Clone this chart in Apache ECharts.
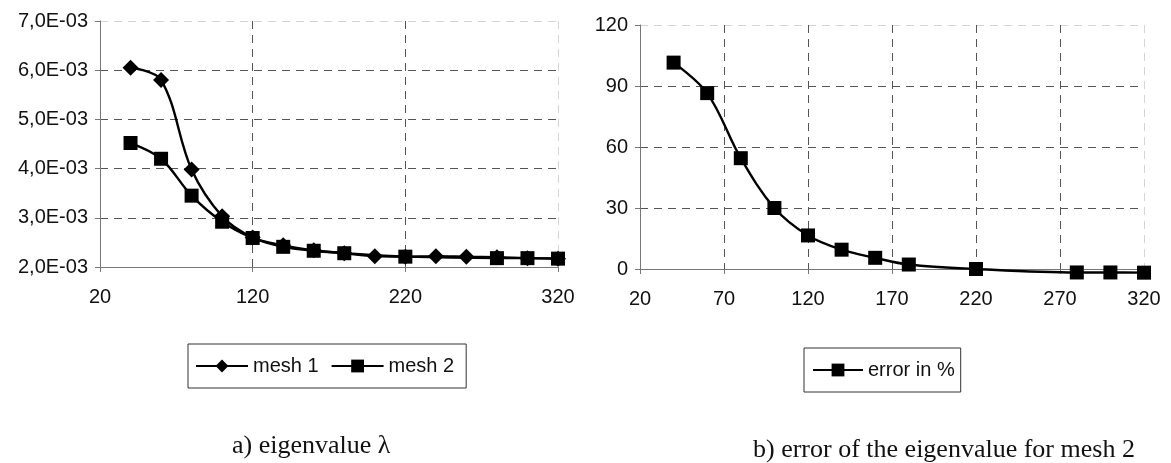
<!DOCTYPE html>
<html>
<head>
<meta charset="utf-8">
<script src="https://cdn.jsdelivr.net/npm/echarts@6/dist/echarts.min.js"></script>
<style>
html,body{margin:0;padding:0;background:#fff;}
#c{width:1171px;height:463px;}
</style>
</head>
<body>
<div id="c"></div>
<script>
// ---- data ----
const xMesh1 = [40, 60, 80, 100, 120, 140, 160, 180, 200, 220, 240, 260, 280, 300, 320];
const mesh1  = [6.05e-3, 5.80e-3, 3.98e-3, 3.03e-3, 2.60e-3, 2.44e-3, 2.34e-3, 2.28e-3, 2.22e-3, 2.21e-3, 2.22e-3, 2.21e-3, 2.20e-3, 2.18e-3, 2.17e-3];
const xMesh2 = [40, 60, 80, 100, 120, 140, 160, 180, 220, 280, 300, 320];
const mesh2  = [4.52e-3, 4.20e-3, 3.45e-3, 2.92e-3, 2.59e-3, 2.41e-3, 2.33e-3, 2.28e-3, 2.21e-3, 2.18e-3, 2.18e-3, 2.17e-3];
const xErr   = [40, 60, 80, 100, 120, 140, 160, 180, 220, 280, 300, 320];
const errPct = [101.5, 86.5, 54.5, 30, 16.5, 9.5, 5.5, 2.2, 0, -1.7, -1.7, -1.8];
const leftXTicks  = [20, 120, 220, 320];
const leftYTicks  = [2e-3, 3e-3, 4e-3, 5e-3, 6e-3, 7e-3];
const rightXTicks = [20, 70, 120, 170, 220, 270, 320];
const rightYTicks = [0, 30, 60, 90, 120];
const seriesNames = ['mesh 1', 'mesh 2', 'error in %'];
const captions = ['a) eigenvalue \u03bb', 'b) error of the eigenvalue for mesh 2'];

const zip = (xs, ys) => xs.map((x, i) => [x, ys[i]]);
const sans = 'Liberation Sans, Arial, sans-serif';
const gridDash = '#555';
const faint = '#d4d4d4';

function xAxisOpt(gridIndex, ticks) {
  const n = ticks.length;
  return {
    type: 'value', gridIndex: gridIndex,
    min: ticks[0], max: ticks[n - 1], interval: ticks[1] - ticks[0],
    axisLine: { show: true, onZero: false, lineStyle: { color: '#777', width: 1 } },
    axisTick: { show: true, length: 5, inside: false, lineStyle: { color: '#777' } },
    axisLabel: { color: '#111', fontSize: 20, fontFamily: sans, margin: 20, showMinLabel: true, showMaxLabel: true },
    splitLine: { show: true, lineStyle: { color: ticks.map((t, i) => i === n - 1 ? faint : gridDash), type: [8, 6], width: 1 } }
  };
}
function yAxisOpt(gridIndex, ticks, fmt) {
  const n = ticks.length;
  return {
    type: 'value', gridIndex: gridIndex,
    min: ticks[0], max: ticks[n - 1], interval: ticks[1] - ticks[0],
    axisLine: { show: true, lineStyle: { color: '#777', width: 1 } },
    axisTick: { show: true, length: 5, inside: false, lineStyle: { color: '#777' } },
    axisLabel: { color: '#111', fontSize: 20, fontFamily: sans, margin: 12, formatter: fmt, showMinLabel: true, showMaxLabel: true },
    splitLine: { show: true, lineStyle: { color: ticks.map((t, i) => i === n - 1 ? faint : gridDash), type: [8, 6], width: 1 } }
  };
}

const lineStyle = { color: '#000', width: 2.4 };
const itemStyle = { color: '#000' };

const option = {
  animation: false,
  backgroundColor: '#fff',
  grid: [
    { left: 100, top: 21, width: 458, height: 246 },
    { left: 640, top: 25, width: 504, height: 244 }
  ],
  xAxis: [ xAxisOpt(0, leftXTicks), xAxisOpt(1, rightXTicks) ],
  yAxis: [
    yAxisOpt(0, leftYTicks, v => (v * 1000).toFixed(1).replace('.', ',') + 'E-03'),
    yAxisOpt(1, rightYTicks, v => String(Math.round(v)))
  ],
  legend: [
    {
      data: [seriesNames[0], seriesNames[1]],
      left: 188, top: 344,
      orient: 'horizontal',
      borderColor: '#333', borderWidth: 1,
      padding: [12, 12, 12, 7],
      itemGap: 12, itemWidth: 52, itemHeight: 16,
      textStyle: { color: '#111', fontSize: 20, fontFamily: sans }
    },
    {
      data: [seriesNames[2]],
      left: 804, top: 348,
      borderColor: '#333', borderWidth: 1,
      padding: [12, 6, 12, 8],
      itemWidth: 50, itemHeight: 16,
      textStyle: { color: '#111', fontSize: 20, fontFamily: sans }
    }
  ],
  graphic: [
    { type: 'text', left: 232, top: 433, style: { text: captions[0], font: '26px "Liberation Serif", "Times New Roman", serif', fill: '#111' } },
    { type: 'text', left: 753, top: 437, style: { text: captions[1], font: '26px "Liberation Serif", "Times New Roman", serif', fill: '#111' } }
  ],
  series: [
    {
      name: seriesNames[0], type: 'line', xAxisIndex: 0, yAxisIndex: 0,
      data: zip(xMesh1, mesh1), smooth: 0.35, clip: false,
      symbol: 'diamond', symbolSize: 16, showAllSymbol: true,
      lineStyle: lineStyle, itemStyle: itemStyle
    },
    {
      name: seriesNames[1], type: 'line', xAxisIndex: 0, yAxisIndex: 0,
      data: zip(xMesh2, mesh2), smooth: 0.35, clip: false,
      symbol: 'rect', symbolSize: 14, showAllSymbol: true,
      lineStyle: lineStyle, itemStyle: itemStyle
    },
    {
      name: seriesNames[2], type: 'line', xAxisIndex: 1, yAxisIndex: 1,
      data: zip(xErr, errPct), smooth: 0.35, clip: false,
      symbol: 'rect', symbolSize: 14, showAllSymbol: true,
      lineStyle: lineStyle, itemStyle: itemStyle
    }
  ]
};

const chart = echarts.init(document.getElementById('c'), null, { renderer: 'canvas' });
chart.setOption(option);
</script>
</body>
</html>
